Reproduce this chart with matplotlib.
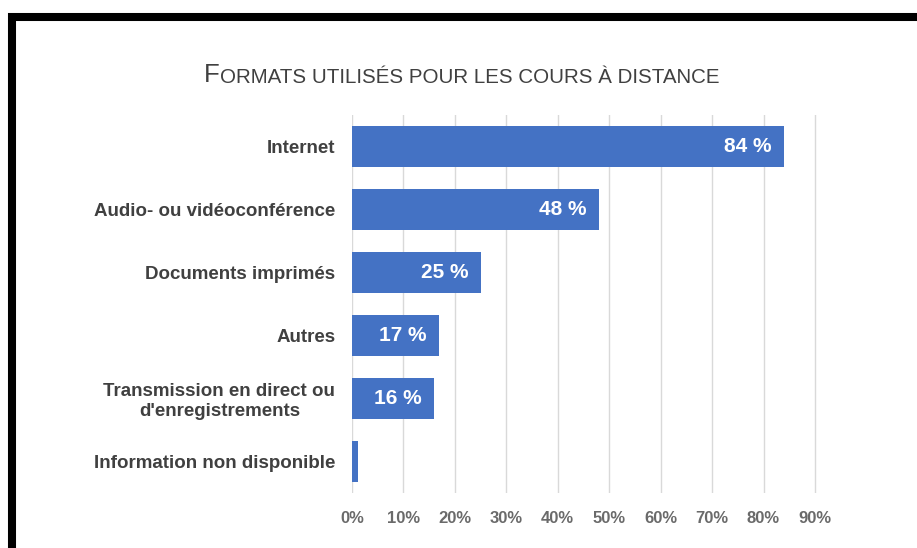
import matplotlib
matplotlib.use('Agg')
import matplotlib.pyplot as plt
from matplotlib.patches import Rectangle

# données
categories = ['Internet', 'Audio- ou vidéoconférence', 'Documents imprimés', 'Autres',
              "Transmission en direct ou\nd'enregistrements", 'Information non disponible']
valeurs = [0.84, 0.48, 0.25, 0.17, 0.16, 0.012]
etiquettes = ['84 %', '48 %', '25 %', '17 %', '16 %', '']
ticks = [0, 0.1, 0.2, 0.3, 0.4, 0.5, 0.6, 0.7, 0.8, 0.9]
tick_labels = ['0%', '10%', '20%', '30%', '40%', '50%', '60%', '70%', '80%', '90%']

plt.rcParams['font.family'] = ['Liberation Sans', 'DejaVu Sans']

W, H = 917, 548
fig = plt.figure(figsize=(W / 100, H / 100), dpi=100)
ax = fig.add_axes([352 / W, 1 - 493 / H, (817 - 352) / W, (493 - 115) / H])

pos = list(range(len(categories)))
ax.barh(pos, valeurs, height=0.66, color='#4472C4', zorder=3)
for p, v, e in zip(pos, valeurs, etiquettes):
    if e:
        ax.annotate(e, xy=(v, p), xytext=(-9, 0), textcoords='offset points',
                    ha='right', va='center', color='white', fontsize=15,
                    fontweight='bold', zorder=4)

ax.set_ylim(len(categories) - 0.5, -0.5)
ax.set_xlim(0, 0.904)
ax.set_yticks(pos)
ax.set_yticklabels(categories, fontsize=13.5, fontweight='bold', color='#404040',
                   linespacing=1.2)
ax.set_xticks(ticks)
ax.set_xticklabels(tick_labels, fontsize=12, fontweight='bold', color='#6a6a6a')
ax.tick_params(axis='both', length=0)
ax.tick_params(axis='y', pad=12)
ax.tick_params(axis='x', pad=13)
for lbl in ax.get_yticklabels():
    lbl.set_horizontalalignment('right')
    lbl.set_multialignment('center')
ax.grid(axis='x', color='#d9d9d9', linewidth=1, zorder=0)
for s in ax.spines.values():
    s.set_visible(False)

# titre en petites capitales
t1 = fig.text(204 / W, 1 - 82 / H, 'F', fontsize=18.5, color='#404040', va='baseline')
ax.annotate('ORMATS UTILISÉS POUR LES COURS À DISTANCE', xy=(1, 0), xycoords=t1,
            va='bottom', ha='left', fontsize=14.8, color='#404040',
            annotation_clip=False)

# cadre noir
top = 1 - 17 / H
fig.add_artist(Rectangle((12 / W, -0.2), 1.2, top + 0.2, transform=fig.transFigure,
                         fill=False, edgecolor='black', linewidth=5.8, clip_on=False))

fig.savefig('out.png', dpi=100)
